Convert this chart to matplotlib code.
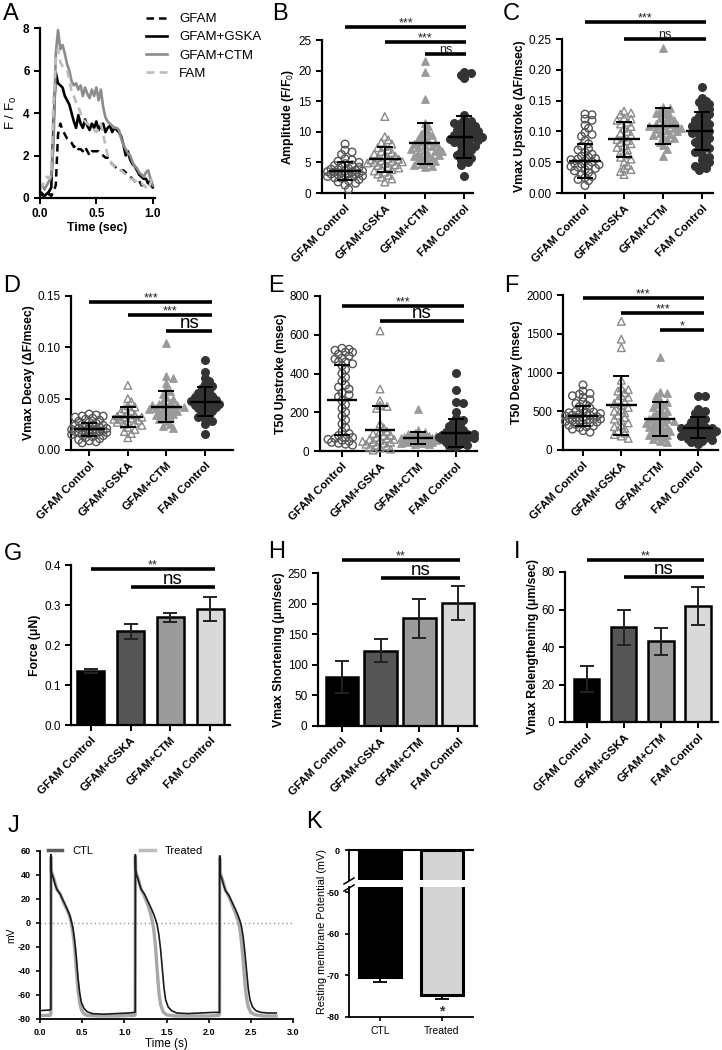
import numpy as np
import matplotlib
matplotlib.use('Agg')
import matplotlib.pyplot as plt
from matplotlib import transforms
from matplotlib.lines import Line2D

plt.rcParams['font.family'] = ['Liberation Sans', 'DejaVu Sans']
plt.rcParams['mathtext.fontset'] = 'custom'
plt.rcParams['mathtext.rm'] = 'Liberation Sans'
plt.rcParams['mathtext.bf'] = 'Liberation Sans:bold'
plt.rcParams['mathtext.it'] = 'Liberation Sans:italic'

# ---------------- DATA ----------------
groups = ['GFAM Control', 'GFAM+GSKA', 'GFAM+CTM', 'FAM Control']

# Panel A: calcium transients
a_time = [0.00, 0.02, 0.04, 0.06, 0.08, 0.10, 0.12, 0.14, 0.16, 0.18, 0.20, 0.22, 0.24,
          0.26, 0.28, 0.30, 0.32, 0.34, 0.36, 0.38, 0.40, 0.42, 0.44, 0.46, 0.48, 0.50,
          0.52, 0.54, 0.56, 0.58, 0.60, 0.62, 0.64, 0.66, 0.68, 0.70, 0.72, 0.74, 0.76,
          0.78, 0.80, 0.82, 0.84, 0.86, 0.88, 0.90, 0.92, 0.94, 0.96, 0.98, 1.00]
a_gfam = [0.1, 0.2, 0.0, 0.1, 0.2, 0.1, 0.3, 0.6, 3.0, 3.5, 3.2, 3.0, 2.8, 2.7, 2.6, 2.4, 2.5,
          2.3, 2.3, 2.2, 2.4, 2.2, 2.0, 2.2, 2.2, 2.2, 2.2, 2.1, 2.0, 1.9, 1.9, 1.7, 1.6, 1.5,
          1.4, 1.3, 1.3, 1.3, 1.2, 1.1, 1.0, 0.9, 0.8, 0.7, 0.8, 0.6, 0.6, 0.8, 0.7, 0.6, 0.5]
a_gska = [0.3, 0.2, 0.1, 0.2, 0.3, 0.5, 3.5, 5.9, 5.4, 5.3, 5.2, 4.8, 4.6, 4.4, 4.0, 3.6, 3.3,
          3.9, 3.5, 3.3, 3.7, 3.4, 3.2, 3.5, 3.3, 3.6, 3.2, 3.4, 3.5, 3.1, 3.3, 3.4, 3.1, 3.3,
          3.2, 3.1, 2.9, 2.5, 2.0, 2.2, 1.8, 1.6, 1.5, 1.3, 1.1, 1.0, 0.9, 0.9, 0.7, 0.8, 0.5]
a_ctm = [0.5, 0.6, 0.4, 0.6, 0.8, 1.0, 2.5, 6.8, 7.9, 7.0, 7.2, 6.8, 6.3, 6.0, 5.5, 5.3, 5.4,
         5.1, 5.3, 4.8, 5.2, 4.9, 4.7, 5.1, 4.8, 5.2, 4.6, 5.1, 4.3, 3.8, 3.6, 3.5, 3.4, 3.3,
         3.3, 3.2, 2.8, 2.5, 2.3, 2.1, 2.0, 1.7, 1.5, 1.4, 1.2, 1.1, 1.0, 1.2, 1.3, 0.9, 0.6]
a_fam = [0.4, 0.6, 0.8, 1.0, 0.9, 1.2, 4.5, 6.5, 7.0, 6.4, 6.2, 6.1, 6.0, 5.6, 5.0, 4.8, 4.5,
         4.3, 4.0, 3.8, 3.6, 3.5, 3.4, 3.3, 3.2, 3.1, 3.3, 3.5, 3.0, 2.5, 2.0, 1.8, 1.6, 1.5,
         1.4, 1.3, 1.3, 1.2, 1.1, 1.0, 0.9, 0.9, 0.8, 0.8, 0.7, 0.7, 0.6, 0.5, 0.4, 0.7, 1.1]
a_labels = ['GFAM', 'GFAM+GSKA', 'GFAM+CTM', 'FAM']

# Panel B: Amplitude
b_gfam = [8.0, 7.0, 6.7, 6.3, 5.6, 5.4, 5.2, 5.0, 4.8, 4.6, 4.5, 4.3, 4.2, 4.0, 3.9, 3.8, 3.7,
          3.6, 3.5, 3.4, 3.3, 3.2, 3.1, 3.0, 3.0, 2.9, 2.8, 2.7, 2.6, 2.5, 2.4, 2.2, 2.0, 1.8,
          1.6, 1.3, 0.6, 3.6, 3.4, 3.2]
b_gska = [12.5, 9.2, 8.7, 8.3, 8.0, 7.6, 7.4, 7.1, 6.8, 6.6, 6.4, 6.2, 6.0, 5.8, 5.6, 5.4, 5.2,
          5.1, 5.0, 4.8, 4.6, 4.5, 4.3, 4.1, 4.0, 3.8, 3.6, 3.4, 3.1, 2.9, 2.6, 2.3, 1.8, 5.5,
          5.3, 4.9]
b_ctm = [21.5, 19.8, 15.3, 11.5, 11.0, 10.5, 10.0, 9.7, 9.4, 9.1, 8.8, 8.5, 8.3, 8.0, 7.8, 7.6,
         7.4, 7.2, 7.0, 6.8, 6.6, 6.4, 6.2, 6.0, 5.8, 5.6, 5.4, 5.2, 5.0, 4.8, 4.6, 4.4, 4.2,
         8.2, 7.5, 6.9, 6.1]
b_fam = [19.8, 19.6, 19.3, 18.8, 12.8, 12.0, 11.8, 11.5, 11.2, 11.0, 10.7, 10.5, 10.2, 10.0,
         9.8, 9.6, 9.4, 9.2, 9.0, 8.8, 8.5, 8.3, 8.0, 7.8, 7.6, 7.3, 7.0, 6.8, 6.5, 6.2, 6.0,
         5.7, 5.4, 5.0, 4.6, 2.7, 9.3, 8.9, 8.6, 10.3, 11.4]
b_mean = [3.6, 5.5, 8.1, 9.2]
b_sd = [1.5, 2.0, 3.3, 3.4]

# Panel C: Vmax upstroke
c_gfam = [0.128, 0.127, 0.120, 0.118, 0.110, 0.105, 0.098, 0.095, 0.092, 0.085, 0.080, 0.076,
          0.072, 0.070, 0.066, 0.063, 0.060, 0.058, 0.056, 0.054, 0.052, 0.050, 0.048, 0.046,
          0.044, 0.042, 0.040, 0.038, 0.036, 0.033, 0.030, 0.027, 0.025, 0.022, 0.020, 0.012,
          0.055, 0.047, 0.043]
c_gska = [0.133, 0.130, 0.128, 0.122, 0.120, 0.118, 0.115, 0.112, 0.108, 0.105, 0.100, 0.097,
          0.094, 0.090, 0.087, 0.085, 0.082, 0.080, 0.077, 0.074, 0.070, 0.066, 0.062, 0.058,
          0.055, 0.050, 0.045, 0.040, 0.038, 0.035, 0.030]
c_ctm = [0.235, 0.140, 0.138, 0.135, 0.133, 0.130, 0.128, 0.125, 0.122, 0.120, 0.118, 0.115,
         0.112, 0.110, 0.108, 0.106, 0.104, 0.102, 0.100, 0.098, 0.096, 0.094, 0.092, 0.090,
         0.087, 0.083, 0.078, 0.072, 0.060, 0.112, 0.108, 0.105]
c_fam = [0.172, 0.155, 0.150, 0.148, 0.145, 0.140, 0.136, 0.132, 0.128, 0.125, 0.122, 0.118,
         0.115, 0.112, 0.110, 0.106, 0.103, 0.100, 0.097, 0.094, 0.090, 0.087, 0.083, 0.080,
         0.077, 0.073, 0.070, 0.066, 0.062, 0.058, 0.054, 0.050, 0.046, 0.044, 0.040, 0.037,
         0.108, 0.100, 0.095]
c_mean = [0.052, 0.087, 0.109, 0.101]
c_sd = [0.027, 0.028, 0.029, 0.031]

# Panel D: Vmax decay
d_gfam = [0.035, 0.034, 0.033, 0.033, 0.032, 0.031, 0.030, 0.029, 0.028, 0.027, 0.026, 0.025,
          0.024, 0.023, 0.022, 0.021, 0.021, 0.020, 0.020, 0.019, 0.019, 0.018, 0.018, 0.017,
          0.017, 0.016, 0.015, 0.015, 0.014, 0.013, 0.012, 0.011, 0.010, 0.009, 0.008, 0.007,
          0.022, 0.020, 0.018, 0.016, 0.024, 0.019]
d_gska = [0.063, 0.050, 0.047, 0.043, 0.042, 0.040, 0.038, 0.037, 0.035, 0.034, 0.033, 0.032,
          0.031, 0.030, 0.029, 0.028, 0.027, 0.026, 0.025, 0.024, 0.022, 0.020, 0.018, 0.016,
          0.012, 0.032, 0.030]
d_ctm = [0.104, 0.072, 0.070, 0.065, 0.060, 0.057, 0.055, 0.052, 0.050, 0.048, 0.046, 0.045,
         0.044, 0.043, 0.042, 0.041, 0.040, 0.039, 0.038, 0.037, 0.036, 0.035, 0.034, 0.033,
         0.032, 0.030, 0.028, 0.025, 0.023, 0.021, 0.042, 0.044, 0.040]
d_fam = [0.088, 0.076, 0.070, 0.067, 0.064, 0.062, 0.060, 0.058, 0.056, 0.054, 0.052, 0.050,
         0.049, 0.048, 0.047, 0.046, 0.045, 0.044, 0.043, 0.042, 0.041, 0.040, 0.038, 0.036,
         0.034, 0.032, 0.030, 0.028, 0.025, 0.016, 0.050, 0.047, 0.044, 0.053]
d_mean = [0.020, 0.032, 0.042, 0.047]
d_sd = [0.006, 0.010, 0.015, 0.014]

# Panel E: T50 upstroke
e_gfam = [530, 525, 520, 510, 500, 490, 475, 460, 450, 440, 420, 400, 380, 360, 340, 320, 300,
          280, 260, 240, 220, 200, 180, 160, 140, 120, 100, 90, 80, 70, 65, 60, 55, 50, 45, 40,
          35, 30, 460, 480, 510, 290, 330, 70]
e_gska = [620, 320, 260, 235, 230, 220, 140, 120, 100, 90, 80, 70, 65, 60, 55, 50, 45, 40, 35,
          30, 25, 20, 15, 10, 5, 60, 45, 80, 100]
e_ctm = [215, 110, 100, 95, 90, 85, 80, 78, 75, 72, 70, 68, 65, 62, 60, 58, 55, 52, 50, 48, 45,
         42, 40, 38, 35, 60, 70, 65, 55]
e_fam = [405, 315, 255, 250, 200, 170, 160, 150, 140, 130, 120, 110, 105, 100, 95, 90, 85, 80,
         78, 75, 72, 70, 68, 65, 62, 60, 55, 50, 45, 40, 35, 30, 25, 20, 85, 90, 70, 65]
e_mean = [265, 110, 68, 95]
e_sd = [180, 120, 30, 72]

# Panel F: T50 decay
f_gfam = [840, 760, 730, 720, 700, 680, 650, 620, 600, 580, 560, 540, 520, 500, 490, 480, 470,
          460, 450, 440, 430, 420, 410, 400, 390, 380, 370, 360, 350, 340, 330, 320, 310, 300,
          290, 270, 250, 230, 450, 420, 480, 400, 380]
f_gska = [1660, 1430, 1320, 900, 800, 780, 760, 740, 700, 680, 650, 620, 600, 580, 550, 520,
          500, 480, 450, 420, 400, 380, 350, 320, 300, 280, 250, 220, 200, 180, 150]
f_ctm = [1200, 750, 730, 700, 650, 620, 600, 580, 550, 520, 500, 480, 460, 440, 420, 400, 380,
         360, 340, 320, 300, 280, 260, 240, 220, 200, 180, 160, 140, 120, 100, 400, 380, 350,
         300, 250, 200]
f_fam = [700, 700, 530, 500, 480, 450, 420, 400, 380, 360, 340, 320, 300, 290, 280, 270, 260,
         250, 240, 230, 220, 210, 200, 190, 180, 160, 150, 140, 130, 120, 100, 80, 280, 300, 250]
f_mean = [440, 580, 400, 285]
f_sd = [130, 380, 225, 135]

# Panels G-I: bar charts (mean, SEM)
g_mean = [0.135, 0.234, 0.269, 0.289]
g_err = [0.005, 0.018, 0.011, 0.030]
h_mean = [80, 123, 176, 201]
h_err = [26, 19, 32, 27]
i_mean = [23, 50.5, 43, 62]
i_err = [7, 9.5, 7, 10]

# Panel J: action potentials
j_ctl_t = [0.00, 0.12, 0.129, 0.131, 0.134, 0.14, 0.16, 0.18, 0.20, 0.24, 0.28, 0.32, 0.35, 0.37,
           0.39, 0.41, 0.43, 0.45, 0.47, 0.49, 0.52, 0.56, 0.62, 0.75, 0.90, 1.05, 1.12,
           1.129, 1.131, 1.134, 1.14, 1.16, 1.18, 1.20, 1.24, 1.28, 1.32, 1.35, 1.37, 1.39, 1.41,
           1.43, 1.45, 1.47, 1.49, 1.52, 1.56, 1.62, 1.75, 1.90, 2.05, 2.12,
           2.129, 2.131, 2.134, 2.14, 2.16, 2.18, 2.20, 2.24, 2.28, 2.32, 2.35, 2.37, 2.39, 2.41,
           2.43, 2.45, 2.47, 2.49, 2.52, 2.56, 2.62, 2.70, 2.80]
j_ctl_v = [-73, -72.5, -72, 57, 44, 41, 37, 32, 28, 24, 18, 12, 7, 2,
           -4, -14, -28, -45, -58, -66, -71, -74, -75.5, -76, -75.5, -75, -74.5,
           -74, 57, 44, 41, 37, 32, 28, 24, 18, 12, 7, 3, -2, -10,
           -22, -38, -54, -64, -70, -73, -75, -75.5, -75, -74.5, -74.5,
           -74.5, 56, 43, 40, 36, 31, 27, 23, 17, 11, 6, 2, -3, -12,
           -25, -40, -55, -64, -70, -73, -74.5, -75, -75]
j_trt_t = [0.00, 0.12, 0.129, 0.131, 0.134, 0.14, 0.16, 0.18, 0.20, 0.24, 0.28, 0.32, 0.35, 0.37,
           0.39, 0.41, 0.43, 0.45, 0.47, 0.49, 0.52, 0.56, 0.70, 0.90, 1.12,
           1.129, 1.131, 1.134, 1.14, 1.16, 1.18, 1.20, 1.24, 1.28, 1.31, 1.33, 1.35, 1.37, 1.39,
           1.41, 1.43, 1.46, 1.50, 1.60, 1.80, 2.00, 2.12,
           2.129, 2.131, 2.134, 2.14, 2.16, 2.18, 2.20, 2.24, 2.28, 2.32, 2.35, 2.37, 2.39, 2.41,
           2.43, 2.45, 2.47, 2.50, 2.55, 2.65, 2.80]
j_trt_v = [-77, -77, -76, 55, 44, 42, 38, 33, 28, 24, 17, 11, 6, 0,
           -8, -20, -38, -55, -66, -72, -75.5, -77, -77.5, -77.5, -77,
           -76, 55, 44, 42, 38, 33, 28, 22, 15, 8, 2, -6, -20, -40,
           -58, -68, -74, -76.5, -77.5, -77.5, -77.5, -77,
           -76, 54, 43, 41, 37, 32, 27, 22, 15, 8, 2, -5, -16, -32,
           -50, -63, -70, -74.5, -76.5, -77.5, -77.5]

# Panel K: resting membrane potential
k_groups = ['CTL', 'Treated']
k_mean = [-70.3, -74.8]
k_err = [1.4, 1.0]

# ---------------- FIGURE ----------------
W, H = 722, 1050
fig = plt.figure(figsize=(W / 100, H / 100), dpi=100)


def place(l, t, r, b):
    return fig.add_axes([l / W, 1 - b / H, (r - l) / W, (b - t) / H])


def style(ax, lw=1.6):
    for s in ['top', 'right']:
        ax.spines[s].set_visible(False)
    for s in ['left', 'bottom']:
        ax.spines[s].set_linewidth(lw)
    ax.tick_params(width=lw * 0.9, length=4, direction='out', colors='black')


def letter(x, y, s):
    fig.text(x / W, 1 - y / H, s, fontsize=17, va='top', ha='left')


def swarm_x(ax, xc, vals, diam, maxk=5, mind=0.62):
    vals = np.asarray(vals, float)
    T = ax.transData
    pts = T.transform(np.column_stack([np.full(len(vals), float(xc)), vals]))
    xc_px = pts[0, 0]
    ys = pts[:, 1]
    order = np.argsort(-ys)
    px, py = [], []
    out = np.empty(len(vals))
    step = diam * 0.5
    cand = [0]
    for k in range(1, maxk + 1):
        cand += [k, -k]
    for i in order:
        chosen = None
        best, bestd = None, -1
        for k in cand:
            x = xc_px + k * step
            if px:
                d = np.min(np.hypot(np.array(px) - x, np.array(py) - ys[i]))
            else:
                d = np.inf
            if d >= diam * mind:
                chosen = x
                break
            if d > bestd:
                bestd, best = d, x
        if chosen is None:
            chosen = best
        px.append(chosen)
        py.append(ys[i])
        out[i] = chosen
    inv = T.inverted()
    return inv.transform(np.column_stack([out, ys]))[:, 0]


def sig(ax, x0, x1, ypix, text, big=False):
    tr = transforms.blended_transform_factory(ax.transData, fig.transFigure)
    y = 1 - ypix / H
    ax.plot([x0, x1], [y, y], transform=tr, color='black', lw=2.6,
            solid_capstyle='butt', clip_on=False)
    if big:
        ax.text((x0 + x1) / 2, 1 - (ypix - 3) / H, text, transform=tr, ha='center',
                va='baseline', fontsize=13.5)
    else:
        ax.text((x0 + x1) / 2, 1 - (ypix - 1) / H, text, transform=tr, ha='center',
                va='baseline', fontsize=9, color='#222')


def cat_xticks(ax):
    ax.set_xticks(range(4))
    ax.set_xticklabels(groups, rotation=45, ha='right', rotation_mode='anchor',
                       fontsize=8.2, fontweight='bold')
    ax.tick_params(axis='y', labelsize=8.5)


marker_styles = [
    dict(marker='o', facecolors='none', edgecolors='#555555', s=30, linewidths=1.0),
    dict(marker='^', facecolors='none', edgecolors='#8a8a8a', s=30, linewidths=1.0),
    dict(marker='^', facecolors='#9a9a9a', edgecolors='#9a9a9a', s=30, linewidths=0.8),
    dict(marker='o', facecolors='#333333', edgecolors='#333333', s=32, linewidths=0.8),
]


def scatter_panel(rect, xlim, ylim, yticks, ticklabels, data, means, sds, ylabel, sigs):
    ax = place(*rect)
    style(ax)
    ax.set_xlim(*xlim)
    ax.set_ylim(*ylim)
    ax.set_yticks(yticks)
    ax.set_yticklabels(ticklabels)
    cat_xticks(ax)
    ax.set_ylabel(ylabel, fontsize=8.8, fontweight='bold', labelpad=2)
    for i, vals in enumerate(data):
        xs = swarm_x(ax, i, vals, 7.0)
        ax.scatter(xs, vals, zorder=3, clip_on=False, **marker_styles[i])
        ax.hlines(means[i], i - 0.4, i + 0.4, color='black', lw=1.7, zorder=5)
        ax.errorbar([i], [means[i]], yerr=[sds[i]], fmt='none', ecolor='black',
                    elinewidth=1.4, capsize=5.5, capthick=1.4, zorder=5)
    for s in sigs:
        sig(ax, *s)
    return ax


bar_colors = ['#000000', '#555555', '#9b9b9b', '#d9d9d9']


def bar_panel(rect, xlim, ylim, yticks, ticklabels, means, errs, width, ylabel, sigs):
    ax = place(*rect)
    style(ax)
    ax.set_xlim(*xlim)
    ax.set_ylim(*ylim)
    ax.bar(range(4), means, width=width, color=bar_colors, edgecolor='black',
           linewidth=1.8, zorder=2)
    ax.errorbar(range(4), means, yerr=errs, fmt='none', ecolor='#222222',
                elinewidth=1.4, capsize=5, capthick=1.4, zorder=3)
    ax.set_yticks(yticks)
    ax.set_yticklabels(ticklabels)
    cat_xticks(ax)
    ax.set_ylabel(ylabel, fontsize=8.8, fontweight='bold', labelpad=2)
    for s in sigs:
        sig(ax, *s)
    return ax


# ---- Panel A ----
axA = place(40, 28, 155, 198)
style(axA)
axA.plot(a_time, a_gfam, color='black', lw=1.8, ls=(0, (3, 2)), label=a_labels[0])
axA.plot(a_time, a_gska, color='black', lw=1.9, label=a_labels[1])
axA.plot(a_time, a_ctm, color='#8c8c8c', lw=1.9, label=a_labels[2])
axA.plot(a_time, a_fam, color='#bdbdbd', lw=1.9, ls=(0, (3, 2)), label=a_labels[3])
axA.set_xlim(0, 1.02)
axA.set_ylim(0, 8)
axA.set_xticks([0.0, 0.5, 1.0])
axA.set_xticklabels(['0.0', '0.5', '1.0'], fontweight='bold', fontsize=8.5)
axA.set_yticks([0, 2, 4, 6, 8])
axA.set_yticklabels(['0', '2', '4', '6', '8'], fontweight='bold', fontsize=8.5)
axA.set_xlabel('Time (sec)', fontsize=8.8, fontweight='bold', labelpad=1)
axA.set_ylabel(r'F / F$_{0}$', fontsize=9.5, labelpad=3)
hA, lA = axA.get_legend_handles_labels()
fig.legend(hA, lA, loc='upper left', bbox_to_anchor=(146 / W, 1 - 13 / H), frameon=False,
           fontsize=9.5, handlelength=1.6, labelspacing=0.45, handletextpad=0.9,
           borderaxespad=0, borderpad=0)
letter(3, 3, 'A')

# ---- Panel B ----
scatter_panel((322, 40, 473, 193), (-0.58, 3.22), (0, 25), [0, 5, 10, 15, 20, 25],
              ['0', '5', '10', '15', '20', '25'], [b_gfam, b_gska, b_ctm, b_fam],
              b_mean, b_sd, r'Amplitude (F/F$_{0}$)',
              [(0, 3.05, 27, '***'), (1, 3.05, 42, '***'), (2, 3.05, 54, 'ns')])
letter(272, 3, 'B')

# ---- Panel C ----
scatter_panel((562, 39, 713, 193), (-0.59, 3.28), (0, 0.25),
              [0, 0.05, 0.10, 0.15, 0.20, 0.25],
              ['0.00', '0.05', '0.10', '0.15', '0.20', '0.25'],
              [c_gfam, c_gska, c_ctm, c_fam], c_mean, c_sd,
              'Vmax Upstroke (\u0394F/msec)',
              [(0, 3.1, 22, '***'), (1, 3.1, 39, 'ns')])
letter(503, 3, 'C')

# ---- Panel D ----
scatter_panel((71, 296, 233, 450), (-0.47, 3.72), (0, 0.15), [0, 0.05, 0.10, 0.15],
              ['0.00', '0.05', '0.10', '0.15'],
              [d_gfam, d_gska, d_ctm, d_fam], d_mean, d_sd,
              'Vmax Decay (\u0394F/msec)',
              [(0, 3.18, 302, '***'), (1, 3.18, 315, '***'), (2, 3.18, 331, 'ns', True)])
letter(3, 275, 'D')

# ---- Panel E ----
scatter_panel((320, 296, 477, 451), (-0.58, 3.55), (0, 800), [0, 200, 400, 600, 800],
              ['0', '200', '400', '600', '800'],
              [e_gfam, e_gska, e_ctm, e_fam], e_mean, e_sd,
              'T50 Upstroke (msec)',
              [(0, 3.2, 306, '***'), (1, 3.2, 321, 'ns', True)])
letter(268, 275, 'E')

# ---- Panel F ----
scatter_panel((563, 295, 718, 450), (-0.52, 3.52), (0, 2000), [0, 500, 1000, 1500, 2000],
              ['0', '500', '1000', '1500', '2000'],
              [f_gfam, f_gska, f_ctm, f_fam], f_mean, f_sd,
              'T50 Decay (msec)',
              [(0, 3.15, 298, '***'), (1, 3.15, 313, '***'), (2, 3.15, 330, '*')])
letter(504, 275, 'F')

# ---- Panel G ----
bar_panel((71, 565, 230, 725), (-0.5, 3.5), (0, 0.4), [0, 0.1, 0.2, 0.3, 0.4],
          ['0.0', '0.1', '0.2', '0.3', '0.4'], g_mean, g_err, 0.68,
          'Force (\u03bcN)', [(0, 3.12, 569, '**'), (1, 3.12, 587, 'ns', True)])
letter(4, 543, 'G')

# ---- Panel H ----
bar_panel((318, 573, 477, 726), (-0.62, 3.49), (0, 250), [0, 50, 100, 150, 200, 250],
          ['0', '50', '100', '150', '200', '250'], h_mean, h_err, 0.84,
          'Vmax Shortening (\u03bcm/sec)',
          [(0, 3.05, 560, '**'), (1, 3.05, 578, 'ns', True)])
letter(268, 541, 'H')

# ---- Panel I ----
bar_panel((565, 572, 718, 722), (-0.59, 3.54), (0, 80), [0, 20, 40, 60, 80],
          ['0', '20', '40', '60', '80'], i_mean, i_err, 0.68,
          'Vmax Relengthening (\u03bcm/sec)',
          [(0, 3.15, 560, '**'), (1, 3.15, 577, 'ns', True)])
letter(514, 541, 'I')

# ---- Panel J ----
axJ = place(40, 851, 293, 1019)
style(axJ, lw=1.3)
axJ.axhline(0, color='#9a9a9a', ls=(0, (1, 2)), lw=1.0, zorder=1)
axJ.plot(j_trt_t, j_trt_v, color='#a8a8a8', lw=2.4, zorder=2)
axJ.plot(j_ctl_t, j_ctl_v, color='#1a1a1a', lw=1.2, zorder=3)
axJ.set_xlim(0, 3)
axJ.set_ylim(-80, 60)
axJ.set_xticks([0, 0.5, 1.0, 1.5, 2.0, 2.5, 3.0])
axJ.set_xticklabels(['0.0', '0.5', '1.0', '1.5', '2.0', '2.5', '3.0'], fontsize=6.5,
                    fontweight='bold')
axJ.set_yticks([-80, -60, -40, -20, 0, 20, 40, 60])
axJ.set_yticklabels(['-80', '-60', '-40', '-20', '0', '20', '40', '60'], fontsize=6.5,
                    fontweight='bold')
axJ.tick_params(length=3)
axJ.set_xlabel('Time (s)', fontsize=8.5, labelpad=1)
axJ.set_ylabel('mV', fontsize=7.5, labelpad=1)
j_handles = [Line2D([], [], color='#5a5a5a', lw=2.5), Line2D([], [], color='#bcbcbc', lw=2.5)]
fig.legend(j_handles, k_groups, loc='lower left', bbox_to_anchor=(48 / W, 1 - 856 / H),
           ncol=2, frameon=False, fontsize=8, handlelength=1.3, handletextpad=0.9,
           columnspacing=4.2, borderaxespad=0, borderpad=0)
letter(8, 815, 'J')

# ---- Panel K (broken axis) ----
axKu = place(349, 850, 473, 880)
axKl = place(349, 887, 473, 1017)
k_colors = ['#000000', '#d3d3d3']
for ax in (axKu, axKl):
    ax.bar([0, 1], k_mean, width=0.68, color=k_colors, edgecolor='black', linewidth=2.2,
           zorder=2)
    ax.set_xlim(-0.5, 1.5)
    for s in ['top', 'right']:
        ax.spines[s].set_visible(False)
    ax.spines['left'].set_linewidth(1.3)
    ax.tick_params(width=1.2, length=3, labelsize=6.5)
axKu.set_ylim(-5, 0)
axKu.spines['bottom'].set_visible(False)
axKu.set_xticks([])
axKu.set_yticks([0])
axKu.set_yticklabels(['0'], fontweight='bold')
axKu.axhline(0, color='black', lw=1.5, clip_on=False, zorder=4)
axKl.set_ylim(-80, -48.8)
axKl.spines['bottom'].set_linewidth(1.3)
axKl.set_yticks([-80, -70, -60, -50])
axKl.set_yticklabels(['-80', '-70', '-60', '-50'], fontweight='bold')
axKl.set_xticks([0, 1])
axKl.set_xticklabels(k_groups, fontsize=7.5)
axKl.errorbar([0, 1], k_mean, yerr=[k_err, [0, 0]], fmt='none', ecolor='black',
              elinewidth=1.3, capsize=5, capthick=1.3, zorder=3)
axKl.text(1, -78.6, '*', ha='center', va='center', fontsize=10, fontweight='bold',
          color='#333333')
for yb in (881, 888):
    fig.add_artist(Line2D([344 / W, 354 / W], [1 - (yb + 3) / H, 1 - (yb - 3) / H],
                          color='black', lw=1.1))
fig.text(322 / W, 1 - 932 / H, 'Resting membrane Potential (mV)', rotation=90,
         fontsize=7.8, ha='center', va='center')
letter(306, 811, 'K')

fig.savefig('out.png', dpi=100)
